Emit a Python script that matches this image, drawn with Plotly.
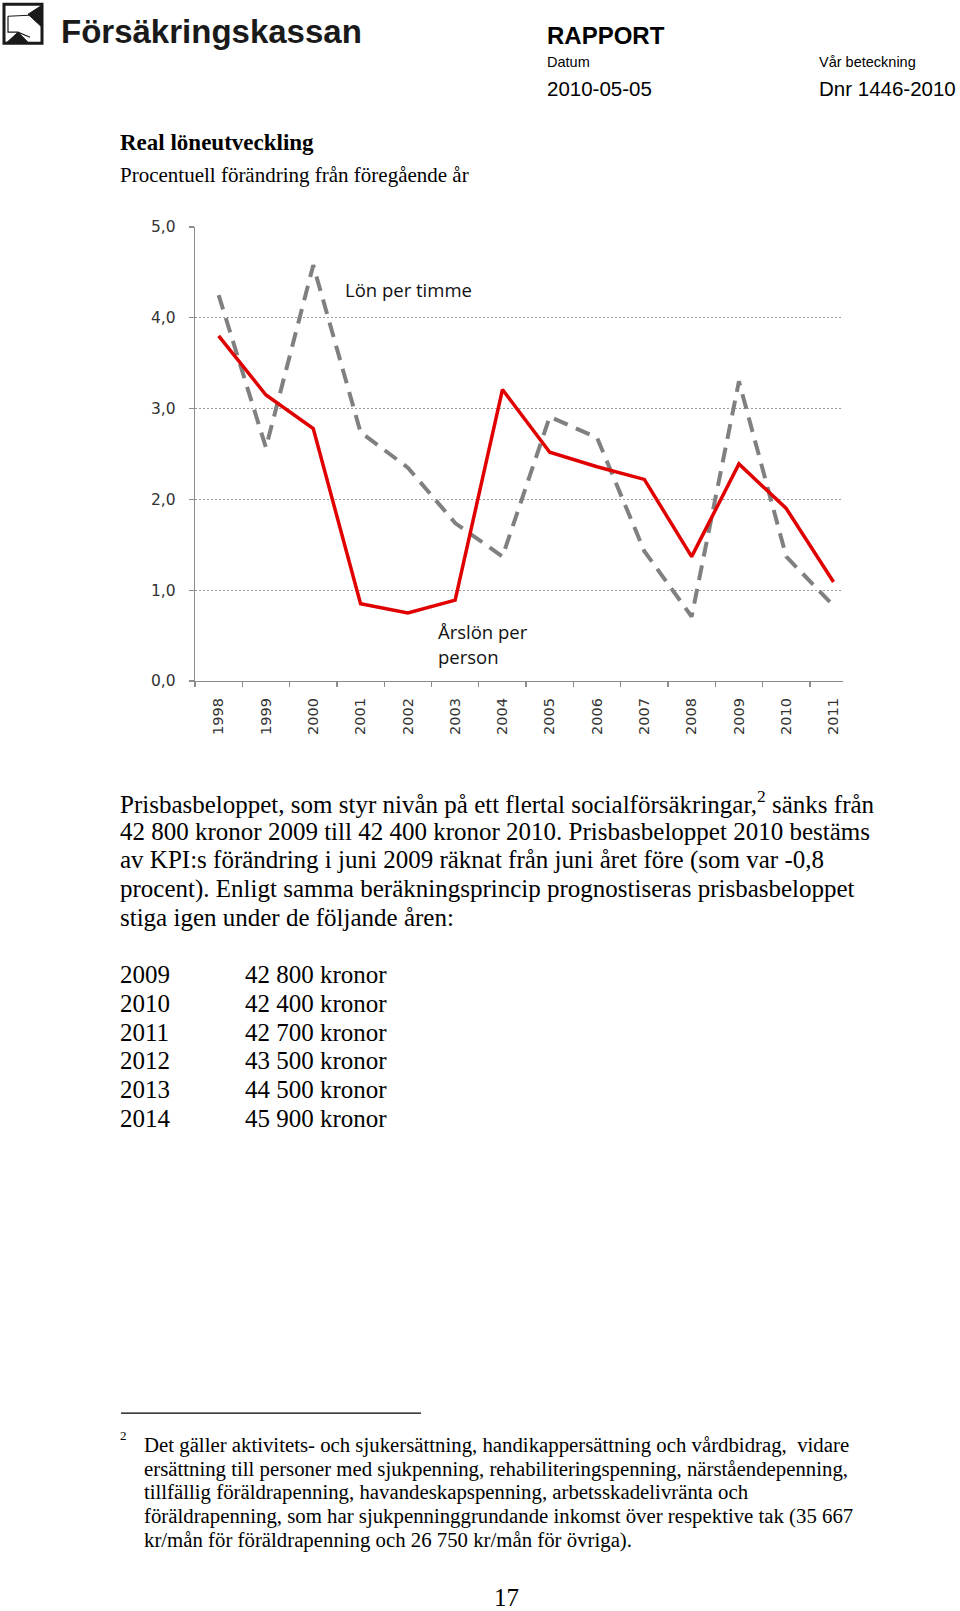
import plotly.graph_objects as go

# ---- data ----
years = ["1998", "1999", "2000", "2001", "2002", "2003", "2004",
         "2005", "2006", "2007", "2008", "2009", "2010", "2011"]
arslon_per_person = [3.80, 3.15, 2.78, 0.85, 0.75, 0.89, 3.21,
                     2.52, 2.36, 2.22, 1.37, 2.39, 1.90, 1.09]
lon_per_timme = [4.25, 2.57, 4.58, 2.74, 2.35, 1.74, 1.37,
                 2.91, 2.68, 1.43, 0.71, 3.30, 1.37, 0.83]
y_ticks = [0, 1, 2, 3, 4, 5]
y_tick_labels = ["0,0", "1,0", "2,0", "3,0", "4,0", "5,0"]

para_lines = [
    "Prisbasbeloppet, som styr nivån på ett flertal socialförsäkringar,<sup>2</sup> sänks från",
    "42 800 kronor 2009 till 42 400 kronor 2010. Prisbasbeloppet 2010 bestäms",
    "av KPI:s förändring i juni 2009 räknat från juni året före (som var -0,8",
    "procent). Enligt samma beräkningsprincip prognostiseras prisbasbeloppet",
    "stiga igen under de följande åren:",
]
pbb_years = ["2009", "2010", "2011", "2012", "2013", "2014"]
pbb_amounts = ["42 800 kronor", "42 400 kronor", "42 700 kronor",
               "43 500 kronor", "44 500 kronor", "45 900 kronor"]
footnote_lines = [
    "Det gäller aktivitets- och sjukersättning, handikappersättning och vårdbidrag,  vidare",
    "ersättning till personer med sjukpenning, rehabiliteringspenning, närståendepenning,",
    "tillfällig föräldrapenning, havandeskapspenning, arbetsskadelivränta och",
    "föräldrapenning, som har sjukpenninggrundande inkomst över respektive tak (35 667",
    "kr/mån för föräldrapenning och 26 750 kr/mån för övriga).",
]

# ---- page geometry ----
W, H = 960, 1611
L, R, T, B = 195, 843, 227, 681.5


def px(x):
    return (x - L) / (R - L)


def py(y):
    return (B - y) / (B - T)


fig = go.Figure()
fig.add_trace(go.Scatter(
    x=years, y=lon_per_timme, mode="lines", name="Lön per timme",
    line=dict(color="#808080", width=4, dash="15px,9px"), hoverinfo="skip"))
fig.add_trace(go.Scatter(
    x=years, y=arslon_per_person, mode="lines", name="Årslön per person",
    line=dict(color="#e00000", width=3.5), hoverinfo="skip"))

serif = "Liberation Serif, Times New Roman, serif"
sans = "Liberation Sans, Arial, sans-serif"
chartfont = "Open Sans, sans-serif"

ann = []


def text(x, y, s, size, family, color="#000000", anchor="left", bold=False):
    if bold:
        s = "<b>" + s + "</b>"
    ann.append(dict(x=px(x), y=py(y), xref="paper", yref="paper", text=s,
                    showarrow=False, xanchor=anchor, yanchor="middle",
                    font=dict(size=size, family=family, color=color),
                    borderpad=0))


# header
text(60, 31, "Försäkringskassan", 33, sans, "#1a1a1a", bold=True)
text(546, 35, "RAPPORT", 24, sans, bold=True)
text(546, 62, "Datum", 14.5, sans)
text(818, 62, "Vår beteckning", 14.5, sans)
text(546, 88, "2010-05-05", 20.5, sans)
text(818, 88, "Dnr 1446-2010", 20.5, sans)
# chart titles
text(119, 142, "Real löneutveckling", 23, serif, bold=True)
text(119, 175, "Procentuell förändring från föregående år", 21, serif)
# series labels
text(344, 290, "Lön per timme", 18.5, chartfont, "#111111")
text(437, 632, "Årslön per", 18.5, chartfont, "#111111")
text(437, 657, "person", 18.5, chartfont, "#111111")
# paragraph
for i, s in enumerate(para_lines):
    text(119, 803 + 28.8 * i, s, 25, serif)
for i, (yv, am) in enumerate(zip(pbb_years, pbb_amounts)):
    text(119, 975.4 + 28.8 * i, yv, 25, serif)
    text(244, 975.4 + 28.8 * i, am, 25, serif)
# footnote
text(119, 1437, "2", 13, serif)
for i, s in enumerate(footnote_lines):
    text(143, 1446 + 23.9 * i, s, 20.8, serif)
text(506, 1599, "17", 25, serif, anchor="center")

shapes = [
    # footnote rule
    dict(type="line", xref="paper", yref="paper", x0=px(121), x1=px(421),
         y0=py(1414.5), y1=py(1414.5), line=dict(color="#000000", width=1.2)),
    # logo frame
    dict(type="rect", xref="paper", yref="paper", x0=px(4), x1=px(42),
         y0=py(4), y1=py(43), line=dict(color="#1a1a1a", width=3)),
    # logo triangles
    dict(type="path", xref="paper", yref="paper",
         path="M {},{} L {},{} L {},{} Z".format(px(28), py(14), px(42), py(5), px(42), py(27)),
         fillcolor="#1a1a1a", line=dict(color="#1a1a1a", width=1)),
    dict(type="path", xref="paper", yref="paper",
         path="M {},{} L {},{} L {},{} Z".format(px(6), py(43), px(18), py(32), px(29), py(43)),
         fillcolor="#1a1a1a", line=dict(color="#1a1a1a", width=1)),
    dict(type="path", xref="paper", yref="paper",
         path="M {},{} L {},{} M {},{} L {},{} L {},{} L {},{}".format(
             px(8), py(16), px(29), py(15), px(8), py(16), px(8), py(32),
             px(18), py(32), px(30), py(37)),
         line=dict(color="#1a1a1a", width=1.2)),
]

fig.update_layout(
    width=W, height=H,
    margin=dict(l=L, r=W - R, t=T, b=H - B, pad=0),
    paper_bgcolor="white", plot_bgcolor="white",
    showlegend=False,
    annotations=ann,
    shapes=shapes,
    xaxis=dict(
        type="category", range=[-0.5, 13.2], tickson="boundaries",
        ticks="outside", ticklen=5, tickcolor="#8c8c8c", tickwidth=1.3,
        showline=True, linecolor="#8c8c8c", linewidth=1.3,
        showgrid=False, zeroline=False, tickangle=-90, automargin=False,
        ticklabelstandoff=10,
        tickfont=dict(family="DejaVu Sans, Verdana, sans-serif", size=14.5, color="#333333"),
    ),
    yaxis=dict(
        range=[0, 5], tickvals=y_ticks, ticktext=y_tick_labels,
        ticks="outside", ticklen=5, tickcolor="#8c8c8c", tickwidth=1.3,
        showline=True, linecolor="#8c8c8c", linewidth=1.3,
        showgrid=True, gridcolor="#9a9a9a", gridwidth=1, griddash="2px,2px",
        zeroline=False, automargin=False, ticklabelstandoff=10,
        tickfont=dict(family="DejaVu Sans, Verdana, sans-serif", size=15.5, color="#333333"),
    ),
)

fig.write_html(
    "out.html",
    config={"displayModeBar": False, "staticPlot": True},
    post_script="document.body.style.margin='0';document.body.style.overflow='hidden';",
)
